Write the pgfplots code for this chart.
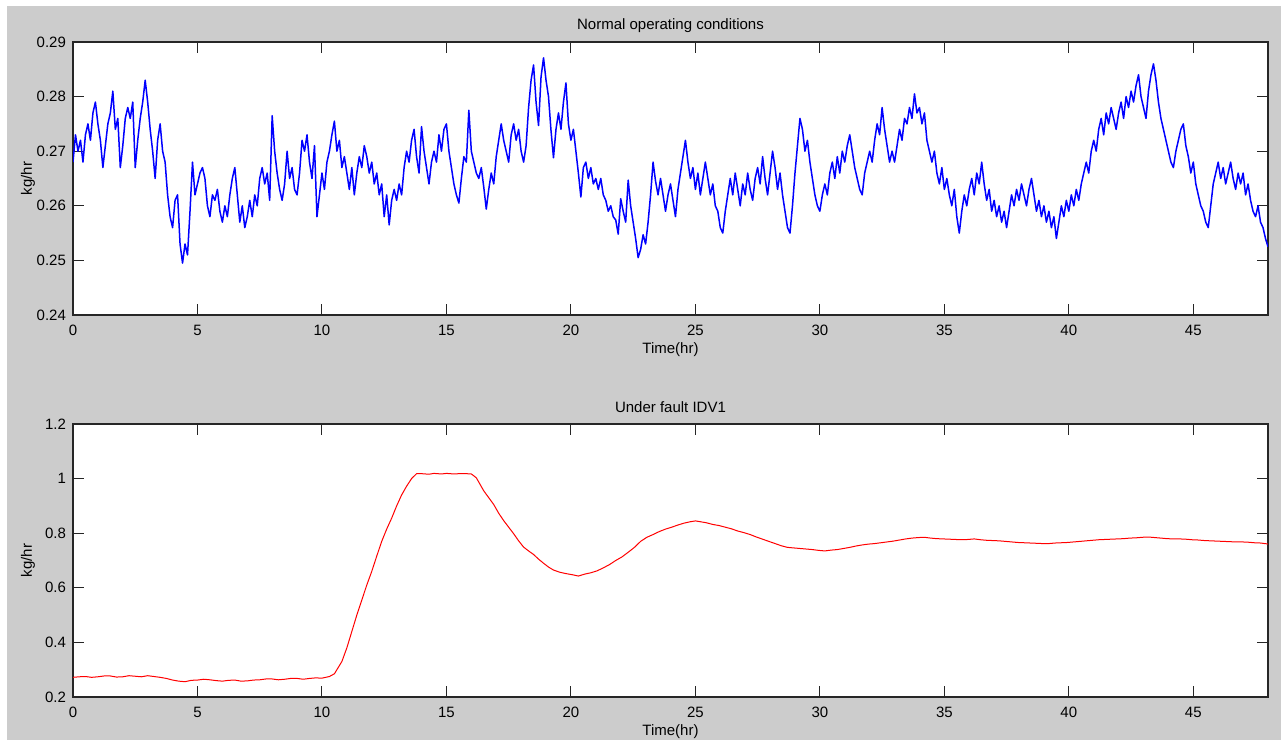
\documentclass[border=0pt]{standalone}
\usepackage{fontspec}
\setmainfont{Liberation Sans}
\usepackage{pgfplots}
\pgfplotsset{compat=1.18}

\definecolor{figgray}{RGB}{204,204,204}

% 1 px of the reference = 0.5pt
\pgfplotsset{
  every axis title shift=0pt,
  matlabax/.style={
    scale only axis,
    width=597.5pt, height=136.5pt,
    xmin=0, xmax=48,
    xtick={0,5,10,15,20,25,30,35,40,45},
    xticklabels={0,5,10,15,20,25,30,35,40,45},
    axis background/.style={fill=white},
    axis line style={black!85, line width=0.6pt},
    every tick/.style={black!85, line width=0.5pt},
    major tick length=5.5pt,
    minor tick num=0,
    /pgf/number format/assume math mode=true,
    tick label style={font=\fontsize{7.5}{9}\selectfont},
    xticklabel style={yshift=-1.5pt},
    label style={font=\fontsize{7.5}{9}\selectfont},
    title style={font=\fontsize{7.5}{9}\selectfont},
    xlabel={Time(hr)},
    ylabel={kg/hr},
    xlabel style={at={(axis description cs:0.5,0)}, anchor=base, yshift=-19.5pt},
    ylabel style={at={(axis description cs:-0.0377,0.5)}, anchor=center},
  }
}

\begin{document}
\begin{tikzpicture}
\fill[white] (0pt,0pt) rectangle (640.5pt,370pt);
\fill[figgray] (3.5pt,0pt) rectangle (640.5pt,367pt);

\begin{axis}[matlabax,
  at={(36.5pt,212.5pt)}, anchor=south west,
  ymin=0.24, ymax=0.29,
  ytick={0.24,0.25,0.26,0.27,0.28,0.29},
  yticklabels={0.24,0.25,0.26,0.27,0.28,0.29},
  title={Normal operating conditions},
  title style={at={(axis description cs:0.5,1)}, anchor=base, yshift=6pt},
]
\addplot[color=blue, line width=0.75pt, line join=round] coordinates {
(0.0,0.268) (0.1,0.273) (0.2,0.270) (0.3,0.272) (0.4,0.268) (0.5,0.273) (0.6,0.275) (0.7,0.272) (0.8,0.277) (0.9,0.279)
(1.0,0.275) (1.1,0.272) (1.2,0.267) (1.3,0.271) (1.4,0.275) (1.5,0.277) (1.6,0.281) (1.7,0.274) (1.8,0.276) (1.9,0.267)
(2.0,0.271) (2.1,0.276) (2.2,0.278) (2.3,0.276) (2.4,0.279) (2.5,0.267) (2.6,0.272) (2.7,0.276) (2.8,0.279) (2.9,0.283)
(3.0,0.279) (3.1,0.274) (3.2,0.270) (3.3,0.265) (3.4,0.272) (3.5,0.275) (3.6,0.270) (3.7,0.268) (3.8,0.262) (3.9,0.258)
(4.0,0.256) (4.1,0.261) (4.2,0.262) (4.3,0.253) (4.4,0.2495) (4.5,0.253) (4.6,0.251) (4.7,0.259) (4.8,0.268) (4.9,0.262)
(5.0,0.264) (5.1,0.266) (5.2,0.267) (5.3,0.265) (5.4,0.260) (5.5,0.258) (5.6,0.262) (5.7,0.261) (5.8,0.263) (5.9,0.259)
(6.0,0.257) (6.1,0.260) (6.2,0.258) (6.3,0.262) (6.4,0.265) (6.5,0.267) (6.6,0.262) (6.7,0.257) (6.8,0.260) (6.9,0.256)
(7.0,0.258) (7.1,0.261) (7.2,0.258) (7.3,0.262) (7.4,0.260) (7.5,0.265) (7.6,0.267) (7.7,0.264) (7.8,0.266) (7.9,0.261)
(8.0,0.2765) (8.1,0.270) (8.2,0.266) (8.3,0.263) (8.4,0.261) (8.5,0.264) (8.6,0.270) (8.7,0.265) (8.8,0.267) (8.9,0.263)
(9.0,0.262) (9.1,0.266) (9.2,0.272) (9.3,0.270) (9.4,0.273) (9.5,0.268) (9.6,0.265) (9.7,0.271) (9.8,0.258) (9.9,0.262)
(10.0,0.266) (10.1,0.263) (10.2,0.268) (10.3,0.270) (10.4,0.273) (10.5,0.2755) (10.6,0.270) (10.7,0.272) (10.8,0.267) (10.9,0.269)
(11.0,0.266) (11.1,0.263) (11.2,0.267) (11.3,0.262) (11.4,0.266) (11.5,0.269) (11.6,0.267) (11.7,0.271) (11.8,0.269) (11.9,0.266)
(12.0,0.268) (12.1,0.264) (12.2,0.266) (12.3,0.262) (12.4,0.264) (12.5,0.258) (12.6,0.262) (12.7,0.2565) (12.8,0.261) (12.9,0.263)
(13.0,0.261) (13.1,0.264) (13.2,0.262) (13.3,0.267) (13.4,0.270) (13.5,0.268) (13.6,0.272) (13.7,0.274) (13.8,0.269) (13.9,0.266)
(14.0,0.2745) (14.1,0.270) (14.2,0.267) (14.3,0.264) (14.4,0.268) (14.5,0.270) (14.6,0.268) (14.7,0.273) (14.8,0.270) (14.9,0.274)
(15.0,0.275) (15.1,0.270) (15.2,0.267) (15.3,0.264) (15.4,0.262) (15.5,0.2605) (15.6,0.265) (15.7,0.269) (15.8,0.268) (15.9,0.2775)
(16.0,0.270) (16.1,0.268) (16.2,0.266) (16.3,0.265) (16.4,0.267) (16.5,0.2634) (16.6,0.2594) (16.7,0.263) (16.8,0.266) (16.9,0.264)
(17.0,0.269) (17.1,0.272) (17.2,0.275) (17.3,0.272) (17.4,0.270) (17.5,0.268) (17.6,0.273) (17.7,0.275) (17.8,0.272) (17.9,0.274)
(18.0,0.270) (18.1,0.268) (18.2,0.271) (18.3,0.278) (18.4,0.283) (18.5,0.2858) (18.6,0.279) (18.7,0.2747) (18.8,0.2836) (18.9,0.2871)
(19.0,0.283) (19.1,0.280) (19.2,0.2738) (19.3,0.2688) (19.4,0.274) (19.5,0.277) (19.6,0.274) (19.7,0.279) (19.8,0.2825) (19.9,0.275)
(20.0,0.272) (20.1,0.274) (20.2,0.270) (20.3,0.266) (20.4,0.2616) (20.5,0.267) (20.6,0.268) (20.7,0.265) (20.8,0.267) (20.9,0.264)
(21.0,0.265) (21.1,0.263) (21.2,0.265) (21.3,0.262) (21.4,0.261) (21.5,0.259) (21.6,0.260) (21.7,0.258) (21.8,0.2574) (21.9,0.2548)
(22.0,0.2613) (22.1,0.259) (22.2,0.257) (22.3,0.2647) (22.4,0.260) (22.5,0.257) (22.6,0.254) (22.7,0.2505) (22.8,0.252) (22.9,0.2547)
(23.0,0.253) (23.1,0.257) (23.2,0.262) (23.3,0.268) (23.4,0.2645) (23.5,0.262) (23.6,0.265) (23.7,0.262) (23.8,0.259) (23.9,0.262)
(24.0,0.264) (24.1,0.261) (24.2,0.258) (24.3,0.263) (24.4,0.266) (24.5,0.269) (24.6,0.272) (24.7,0.268) (24.8,0.265) (24.9,0.267)
(25.0,0.263) (25.1,0.266) (25.2,0.262) (25.3,0.265) (25.4,0.268) (25.5,0.265) (25.6,0.262) (25.7,0.264) (25.8,0.260) (25.9,0.259)
(26.0,0.256) (26.1,0.255) (26.2,0.259) (26.3,0.262) (26.4,0.265) (26.5,0.262) (26.6,0.266) (26.7,0.263) (26.8,0.260) (26.9,0.264)
(27.0,0.262) (27.1,0.266) (27.2,0.263) (27.3,0.261) (27.4,0.265) (27.5,0.267) (27.6,0.264) (27.7,0.269) (27.8,0.265) (27.9,0.262)
(28.0,0.266) (28.1,0.270) (28.2,0.267) (28.3,0.263) (28.4,0.266) (28.5,0.262) (28.6,0.259) (28.7,0.256) (28.8,0.255) (28.9,0.260)
(29.0,0.266) (29.1,0.271) (29.2,0.276) (29.3,0.274) (29.4,0.270) (29.5,0.272) (29.6,0.268) (29.7,0.265) (29.8,0.262) (29.9,0.260)
(30.0,0.259) (30.1,0.262) (30.2,0.264) (30.3,0.262) (30.4,0.266) (30.5,0.268) (30.6,0.265) (30.7,0.269) (30.8,0.266) (30.9,0.270)
(31.0,0.268) (31.1,0.271) (31.2,0.273) (31.3,0.270) (31.4,0.267) (31.5,0.265) (31.6,0.263) (31.7,0.262) (31.8,0.266) (31.9,0.268)
(32.0,0.270) (32.1,0.268) (32.2,0.272) (32.3,0.275) (32.4,0.273) (32.5,0.278) (32.6,0.274) (32.7,0.271) (32.8,0.268) (32.9,0.270)
(33.0,0.268) (33.1,0.271) (33.2,0.274) (33.3,0.272) (33.4,0.276) (33.5,0.275) (33.6,0.278) (33.7,0.276) (33.8,0.2805) (33.9,0.277)
(34.0,0.278) (34.1,0.275) (34.2,0.277) (34.3,0.272) (34.4,0.270) (34.5,0.268) (34.6,0.270) (34.7,0.266) (34.8,0.264) (34.9,0.267)
(35.0,0.263) (35.1,0.265) (35.2,0.262) (35.3,0.260) (35.4,0.263) (35.5,0.258) (35.6,0.255) (35.7,0.259) (35.8,0.262) (35.9,0.260)
(36.0,0.263) (36.1,0.265) (36.2,0.262) (36.3,0.266) (36.4,0.264) (36.5,0.268) (36.6,0.264) (36.7,0.261) (36.8,0.263) (36.9,0.259)
(37.0,0.261) (37.1,0.258) (37.2,0.260) (37.3,0.257) (37.4,0.259) (37.5,0.256) (37.6,0.259) (37.7,0.262) (37.8,0.260) (37.9,0.263)
(38.0,0.261) (38.1,0.264) (38.2,0.262) (38.3,0.260) (38.4,0.263) (38.5,0.265) (38.6,0.262) (38.7,0.259) (38.8,0.261) (38.9,0.258)
(39.0,0.260) (39.1,0.257) (39.2,0.259) (39.3,0.256) (39.4,0.258) (39.5,0.254) (39.6,0.257) (39.7,0.260) (39.8,0.258) (39.9,0.261)
(40.0,0.259) (40.1,0.262) (40.2,0.260) (40.3,0.263) (40.4,0.261) (40.5,0.264) (40.6,0.266) (40.7,0.268) (40.8,0.266) (40.9,0.270)
(41.0,0.272) (41.1,0.270) (41.2,0.274) (41.3,0.276) (41.4,0.273) (41.5,0.277) (41.6,0.275) (41.7,0.278) (41.8,0.276) (41.9,0.274)
(42.0,0.277) (42.1,0.279) (42.2,0.276) (42.3,0.280) (42.4,0.278) (42.5,0.281) (42.6,0.279) (42.7,0.282) (42.8,0.284) (42.9,0.280)
(43.0,0.278) (43.1,0.276) (43.2,0.281) (43.3,0.284) (43.4,0.286) (43.5,0.283) (43.6,0.279) (43.7,0.276) (43.8,0.274) (43.9,0.272)
(44.0,0.270) (44.1,0.268) (44.2,0.267) (44.3,0.270) (44.4,0.272) (44.5,0.274) (44.6,0.275) (44.7,0.271) (44.8,0.269) (44.9,0.266)
(45.0,0.268) (45.1,0.264) (45.2,0.262) (45.3,0.260) (45.4,0.259) (45.5,0.257) (45.6,0.256) (45.7,0.260) (45.8,0.264) (45.9,0.266)
(46.0,0.268) (46.1,0.265) (46.2,0.267) (46.3,0.264) (46.4,0.266) (46.5,0.268) (46.6,0.265) (46.7,0.263) (46.8,0.266) (46.9,0.264)
(47.0,0.266) (47.1,0.262) (47.2,0.264) (47.3,0.261) (47.4,0.259) (47.5,0.258) (47.6,0.260) (47.7,0.257) (47.8,0.256) (47.9,0.254)
(48.0,0.2525)
};
\end{axis}

\begin{axis}[matlabax,
  at={(36.5pt,21.5pt)}, anchor=south west,
  ymin=0.2, ymax=1.2,
  ytick={0.2,0.4,0.6,0.8,1.0,1.2},
  yticklabels={0.2,0.4,0.6,0.8,1,1.2},
  title={Under fault IDV1},
  title style={at={(axis description cs:0.5,1)}, anchor=base, yshift=5.5pt},
]
\addplot[color=red, line width=0.5pt, line join=round] coordinates {
(0.0,0.272) (0.25,0.274) (0.5,0.275) (0.75,0.272) (1.0,0.274) (1.25,0.277) (1.5,0.277) (1.75,0.273)
(2.0,0.274) (2.25,0.278) (2.5,0.276) (2.75,0.274) (3.0,0.278) (3.25,0.275) (3.5,0.272) (3.75,0.268)
(4.0,0.262) (4.25,0.258) (4.5,0.256) (4.75,0.261) (5.0,0.262) (5.25,0.265) (5.5,0.263) (5.75,0.260)
(6.0,0.258) (6.25,0.261) (6.5,0.262) (6.75,0.258) (7.0,0.259) (7.25,0.262) (7.5,0.263) (7.75,0.266)
(8.0,0.266) (8.25,0.263) (8.5,0.265) (8.75,0.268) (9.0,0.268) (9.25,0.265) (9.5,0.268) (9.75,0.270)
(10.0,0.269) (10.3,0.275) (10.5,0.285) (10.8,0.33) (11.0,0.38) (11.2,0.44) (11.4,0.50) (11.6,0.555)
(11.8,0.61) (12.0,0.66) (12.2,0.716) (12.4,0.77) (12.6,0.815) (12.8,0.855) (13.0,0.90) (13.2,0.94)
(13.4,0.972) (13.6,1.0) (13.8,1.018) (14.0,1.018) (14.3,1.016) (14.5,1.019) (14.8,1.017) (15.0,1.019)
(15.3,1.017) (15.5,1.018) (15.8,1.018) (16.0,1.017) (16.2,1.003) (16.5,0.955) (16.7,0.93) (16.9,0.905)
(17.1,0.873) (17.3,0.846) (17.5,0.822) (17.7,0.798) (17.9,0.772) (18.1,0.749) (18.3,0.735) (18.5,0.722)
(18.7,0.705) (18.9,0.69) (19.1,0.676) (19.3,0.665) (19.55,0.657) (19.8,0.652) (20.05,0.648) (20.3,0.643)
(20.55,0.650) (20.8,0.655) (21.05,0.662) (21.3,0.673) (21.55,0.685) (21.8,0.70) (22.05,0.713) (22.3,0.73)
(22.55,0.748) (22.8,0.77) (23.05,0.785) (23.3,0.795) (23.55,0.806) (23.8,0.815) (24.05,0.822) (24.3,0.830)
(24.55,0.837) (24.8,0.842) (25.0,0.845) (25.2,0.842) (25.45,0.838) (25.7,0.832) (25.95,0.828) (26.2,0.822)
(26.45,0.816) (26.7,0.808) (26.95,0.802) (27.2,0.795) (27.45,0.786) (27.7,0.778) (27.95,0.770) (28.2,0.762)
(28.45,0.754) (28.7,0.748) (28.95,0.746) (29.2,0.744) (29.45,0.742) (29.7,0.740) (29.95,0.737) (30.2,0.735)
(30.45,0.738) (30.7,0.740) (30.95,0.744) (31.2,0.748) (31.45,0.753) (31.7,0.757) (31.95,0.760) (32.2,0.762)
(32.45,0.765) (32.7,0.768) (32.95,0.771) (33.2,0.775) (33.45,0.779) (33.7,0.782) (33.95,0.784) (34.2,0.785)
(34.45,0.782) (34.7,0.780) (34.95,0.779) (35.2,0.778) (35.45,0.777) (35.7,0.776) (35.95,0.777) (36.2,0.779)
(36.45,0.776) (36.7,0.774) (36.95,0.773) (37.2,0.772) (37.45,0.770) (37.7,0.768) (37.95,0.766) (38.2,0.765)
(38.45,0.764) (38.7,0.763) (38.95,0.762) (39.2,0.762) (39.45,0.764) (39.7,0.765) (39.95,0.766) (40.2,0.768)
(40.45,0.770) (40.7,0.772) (40.95,0.774) (41.2,0.776) (41.45,0.777) (41.7,0.778) (41.95,0.779) (42.2,0.780)
(42.45,0.782) (42.7,0.783) (42.95,0.785) (43.2,0.786) (43.45,0.784) (43.7,0.782) (43.95,0.780) (44.2,0.779)
(44.45,0.779) (44.7,0.778) (44.95,0.776) (45.2,0.775) (45.45,0.773) (45.7,0.772) (45.95,0.771) (46.2,0.770)
(46.45,0.769) (46.7,0.768) (46.95,0.768) (47.2,0.767) (47.45,0.765) (47.7,0.764) (47.95,0.761) (48.0,0.760)
};
\end{axis}
\end{tikzpicture}
\end{document}
